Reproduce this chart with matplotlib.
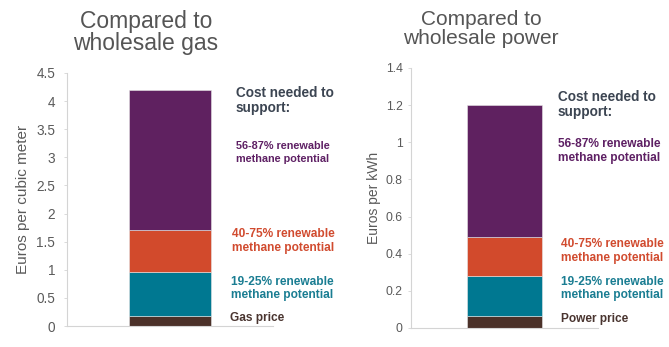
import numpy as np
import matplotlib
matplotlib.use("Agg")
import matplotlib.pyplot as plt

plt.rcParams['font.family'] = ['Liberation Sans', 'DejaVu Sans']

# stacked segment heights, bottom to top
seg_names = ["price", "19-25%", "40-75%", "56-87%"]
seg_colors = ["#4b3129", "#007891", "#d24a2c", "#5f2160"]
gas_vals = [0.18, 0.78, 0.74, 2.50]
power_vals = [0.065, 0.215, 0.21, 0.71]

gas_ticks = [0, 0.5, 1, 1.5, 2, 2.5, 3, 3.5, 4, 4.5]
gas_ticklabels = ["0", "0.5", "1", "1.5", "2", "2.5", "3", "3.5", "4", "4.5"]
power_ticks = [0, 0.2, 0.4, 0.6, 0.8, 1, 1.2, 1.4]
power_ticklabels = ["0", "0.2", "0.4", "0.6", "0.8", "1", "1.2", "1.4"]

W, H = 669, 347
fig = plt.figure(figsize=(W / 100, H / 100), dpi=100)

def px(x, y):
    return x / W, 1 - y / H

def draw_bar(ax, vals, ymax, ticks, ticklabels, ylabel, tsize, lsize, pad):
    bottom = 0
    for v, c in zip(vals, seg_colors):
        ax.bar(0.5, v, width=0.4, bottom=bottom, color=c,
               edgecolor="#e6e6e6", linewidth=0.4)
        bottom += v
    ax.set_xlim(0, 1)
    ax.set_ylim(0, ymax)
    ax.set_xticks([])
    ax.set_yticks(ticks)
    ax.set_yticklabels(ticklabels)
    ax.tick_params(axis="y", length=2.5, width=0.6, color="#d4d4d4", pad=pad,
                   labelsize=tsize, labelcolor="#5a5a5a")
    for s in ["top", "right"]:
        ax.spines[s].set_visible(False)
    for s in ["left", "bottom"]:
        ax.spines[s].set_color("#d4d4d4")
        ax.spines[s].set_linewidth(0.8)
    ax.set_ylabel(ylabel, fontsize=lsize, color="#5a5a5a")

ax1 = fig.add_axes([67 / W, 21 / H, 206 / W, 253 / H])
draw_bar(ax1, gas_vals, 4.5, gas_ticks, gas_ticklabels,
         "Euros per cubic meter", 9.8, 11, 6)
ax1.yaxis.set_label_coords(-0.18, 0.5)

ax2 = fig.add_axes([411 / W, 19 / H, 187 / W, 260 / H])
draw_bar(ax2, power_vals, 1.4, power_ticks, power_ticklabels,
         "Euros per kWh", 8.8, 10, 3.5)
ax2.yaxis.set_label_coords(-0.16, 0.5)

# titles
title_col = "#555555"
fig.text(*px(146, 28), "Compared to", ha="center", va="baseline", fontsize=16.5, color=title_col)
fig.text(*px(146, 50), "wholesale gas", ha="center", va="baseline", fontsize=16.5, color=title_col)
fig.text(*px(481, 25), "Compared to", ha="center", va="baseline", fontsize=15, color=title_col)
fig.text(*px(481, 44), "wholesale power", ha="center", va="baseline", fontsize=15, color=title_col)

head_col = "#3c4552"
txt_cols = {"56-87%": "#5e2064", "40-75%": "#d14b2f", "19-25%": "#1a7d92", "price": "#4a3530"}

def label(x, y, s, col, size):
    fig.text(*px(x, y), s, ha="left", va="baseline", fontsize=size,
             color=col, fontweight="bold")

# left annotations
label(236, 97, "Cost needed to", head_col, 9.8)
label(236, 112, "support:", head_col, 9.8)
label(236, 149, "56-87% renewable", txt_cols["56-87%"], 7.8)
label(236, 162, "methane potential", txt_cols["56-87%"], 7.8)
label(232, 237, "40-75% renewable", txt_cols["40-75%"], 8.6)
label(232, 251, "methane potential", txt_cols["40-75%"], 8.6)
label(231, 285, "19-25% renewable", txt_cols["19-25%"], 8.6)
label(231, 298, "methane potential", txt_cols["19-25%"], 8.6)
label(230, 321, "Gas price", txt_cols["price"], 8.6)

# right annotations
label(558, 101, "Cost needed to", head_col, 9.8)
label(558, 116, "support:", head_col, 9.8)
label(558, 147, "56-87% renewable", txt_cols["56-87%"], 8.6)
label(558, 161, "methane potential", txt_cols["56-87%"], 8.6)
label(561, 247, "40-75% renewable", txt_cols["40-75%"], 8.6)
label(561, 261, "methane potential", txt_cols["40-75%"], 8.6)
label(561, 285, "19-25% renewable", txt_cols["19-25%"], 8.6)
label(561, 298, "methane potential", txt_cols["19-25%"], 8.6)
label(561, 322, "Power price", txt_cols["price"], 8.6)

fig.savefig("out.png", dpi=100)
